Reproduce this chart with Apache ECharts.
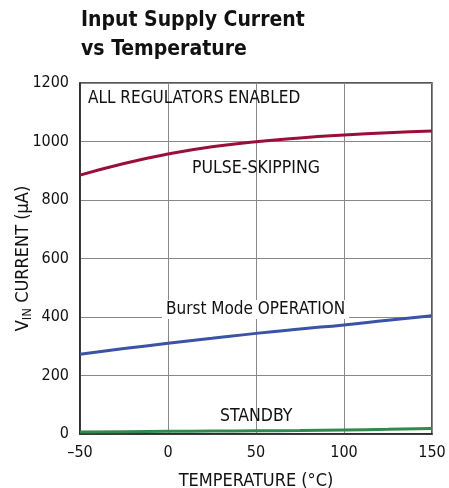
<!DOCTYPE html>
<html>
<head>
<meta charset="utf-8">
<script src="https://cdn.jsdelivr.net/npm/echarts@6/dist/echarts.min.js"></script>
<style>
  html, body { margin: 0; padding: 0; background: #fff; }
  #chart { width: 449px; height: 488px; }
</style>
</head>
<body>
<div id="chart"></div>
<script>
// temperature (°C)
const temps = [-50, -25, 0, 25, 50, 75, 100, 125, 150]
// supply current (µA)
const pulseSkipping = [885, 925, 957, 982, 999, 1012, 1022, 1030, 1036]
const burstMode = [273, 292, 310, 327, 344, 359, 373, 389, 404]
const standby = [7, 8, 9, 10, 11, 12, 14, 16, 19]

const xTicks = { min: -50, max: 150, interval: 50 }
const yTicks = { min: 0, max: 1200, interval: 200 }

const font = '"DejaVu Sans Condensed", "Liberation Sans Narrow", sans-serif'

const chart = echarts.init(document.getElementById('chart'), null, { renderer: 'canvas' })

const pairs = arr => temps.map((t, i) => [t, arr[i]])
const lineSeries = (data, color) => ({
  type: 'line', data: pairs(data), smooth: true, showSymbol: false,
  lineStyle: { color, width: 3 }, z: 5,
})

chart.setOption({
  backgroundColor: '#fff',
  animation: false,
  title: {
    text: 'Input Supply Current\nvs Temperature',
    left: 76, top: 1,
    textStyle: { fontFamily: font, fontWeight: 'bold', fontSize: 21, lineHeight: 29, color: '#111' },
  },
  grid: { left: 80, right: 17, top: 83, bottom: 54, show: true, borderColor: '#222', borderWidth: 1.5, outerBoundsMode: 'none' },
  xAxis: {
    type: 'value', ...xTicks,
    name: 'TEMPERATURE (°C)', nameLocation: 'middle', nameGap: 38,
    nameTextStyle: { fontFamily: font, fontSize: 18, color: '#111' },
    axisLine: { onZero: false, lineStyle: { color: '#222', width: 1.5 } },
    axisTick: { show: false },
    axisLabel: { fontFamily: font, fontSize: 16, color: '#111', margin: 11, formatter: v => String(v).replace('-', '–') },
    splitLine: { lineStyle: { color: '#888', width: 1 } },
  },
  yAxis: {
    type: 'value', ...yTicks,
    name: '{a|V}{s|IN}{a| CURRENT (µA)}', nameLocation: 'middle', nameGap: 46, nameMoveOverlap: false,
    nameTextStyle: {
      rich: {
        a: { fontFamily: font, fontSize: 18, color: '#111' },
        s: { fontFamily: font, fontSize: 13, color: '#111', verticalAlign: 'bottom', padding: [8, 0, 0, 0] },
      },
    },
    axisLine: { show: true, onZero: false, lineStyle: { color: '#222', width: 1.5 } },
    axisTick: { show: false },
    axisLabel: { fontFamily: font, fontSize: 16, color: '#111', margin: 11, formatter: v => String(v) },
    splitLine: { lineStyle: { color: '#888', width: 1 } },
  },
  series: [
    lineSeries(pulseSkipping, '#9a0f3a'),
    lineSeries(burstMode, '#3a53a4'),
    lineSeries(standby, '#2f8a4c'),
  ],
  graphic: [
    { type: 'text', left: 88, top: 90, z: 10, style: { text: 'ALL REGULATORS ENABLED', font: '17px ' + font, fill: '#111' } },
    { type: 'text', left: 192, top: 159, z: 10, style: { text: 'PULSE-SKIPPING', font: '17.5px ' + font, fill: '#111' } },
    { type: 'text', left: 162, top: 300, z: 10, style: { text: 'Burst Mode OPERATION', font: '17px ' + font, fill: '#111', backgroundColor: '#fff', padding: [1, 4] } },
    { type: 'text', left: 220, top: 407, z: 10, style: { text: 'STANDBY', font: '17.5px ' + font, fill: '#111' } },
  ],
})
</script>
</body>
</html>
